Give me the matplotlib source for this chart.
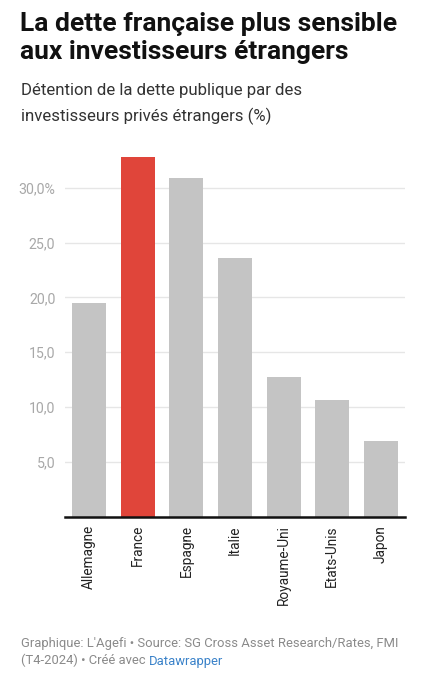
import matplotlib
matplotlib.use("Agg")
import matplotlib.pyplot as plt
from matplotlib.ticker import FixedLocator

categories = ["Allemagne", "France", "Espagne", "Italie", "Royaume-Uni", "Etats-Unis", "Japon"]
values = [19.5, 32.8, 30.9, 23.6, 12.7, 10.6, 6.9]
highlight = "France"
yticks = [5, 10, 15, 20, 25, 30]
ytick_labels = ["5,0", "10,0", "15,0", "20,0", "25,0", "30,0%"]

plt.rcParams['font.family'] = ['Roboto', 'DejaVu Sans']

W, H = 436, 676
fig = plt.figure(figsize=(W / 100, H / 100), dpi=100)
fig.patch.set_facecolor("white")

left, right, top, bottom = 65, 405, 157, 516.7
ax = fig.add_axes([left / W, 1 - bottom / H, (right - left) / W, (bottom - top) / H])

colors = ["#e0453a" if c == highlight else "#c4c4c4" for c in categories]
x = range(len(categories))
ax.bar(x, values, width=0.7, color=colors, zorder=2)
ax.set_xlim(-0.5, len(categories) - 0.5)
ax.set_ylim(0, max(values))

ax.yaxis.set_major_locator(FixedLocator(yticks))
ax.set_yticklabels(ytick_labels)
ax.grid(axis="y", color="#e6e6e6", linewidth=1, zorder=0)
ax.tick_params(axis="y", length=0, pad=7, labelsize=10.2, labelcolor="#a8a8a8")
ax.set_xticks(list(x))
ax.set_xticklabels(categories, rotation=90, va="top", ha="center")
ax.tick_params(axis="x", length=0, pad=6, labelsize=9.8, labelcolor="#222222")
for s in ["top", "right", "left"]:
    ax.spines[s].set_visible(False)
ax.spines["bottom"].set_color("#111111")
ax.spines["bottom"].set_linewidth(1.8)
ax.spines["bottom"].set_zorder(3)

def fy(py):
    return 1 - py / H

fig.text(20 / W, fy(31), "La dette française plus sensible", fontsize=19, fontweight="bold",
         color="#111111", va="baseline", ha="left")
fig.text(20 / W, fy(59), "aux investisseurs étrangers", fontsize=19, fontweight="bold",
         color="#111111", va="baseline", ha="left")
fig.text(21 / W, fy(95), "Détention de la dette publique par des", fontsize=12.1,
         color="#333333", va="baseline", ha="left")
fig.text(21 / W, fy(121.5), "investisseurs privés étrangers (%)", fontsize=12.1,
         color="#333333", va="baseline", ha="left")

fig.text(21 / W, fy(647), "Graphique: L'Agefi • Source: SG Cross Asset Research/Rates, FMI",
         fontsize=9.35, color="#8a8a8a", va="baseline", ha="left")
t = fig.text(21 / W, fy(664.5), "(T4-2024) • Créé avec ", fontsize=9.35, color="#8a8a8a",
             va="baseline", ha="left")
fig.canvas.draw()
bb = t.get_window_extent()
fig.text(bb.x1 / W, fy(664.5), "Datawrapper", fontsize=9.35, color="#3a82c9",
         va="baseline", ha="left")

fig.savefig("out.png", dpi=100, facecolor="white")
